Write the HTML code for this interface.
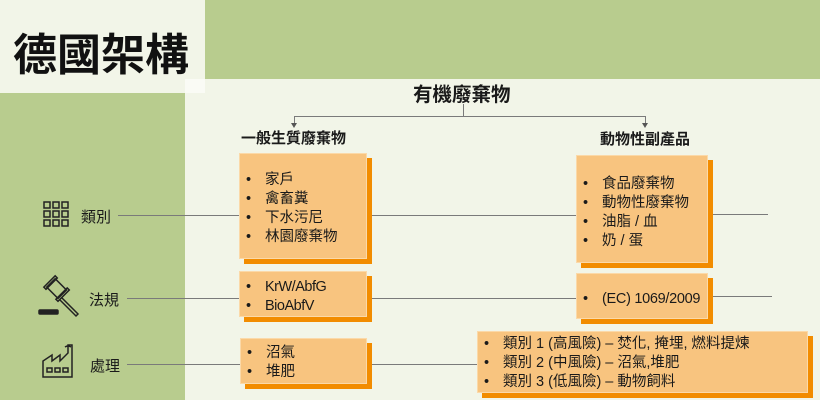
<!DOCTYPE html>
<html><head><meta charset="utf-8"><style>
body{margin:0;width:820px;height:400px;overflow:hidden;background:#f2f5e8;position:relative;font-family:"Liberation Sans","Noto Sans CJK TC",sans-serif;color:#1a1a1a}
.a{position:absolute}
.box{position:absolute;background:#f8c47f;box-shadow:5px 5px 0 #f28c00;border:1px solid #fbd9a8;box-sizing:border-box}
.t{position:absolute;font-size:14.5px;line-height:19px;white-space:nowrap}
.t div{position:relative;padding-left:26px}
.t div:before{content:"•";position:absolute;left:7px}
.ln{position:absolute;height:1px;background:#7a7a7a}
.lab{position:absolute;font-size:15px}
</style></head><body>
<div class="a" style="left:205px;top:0;width:615px;height:79px;background:#b8cc8e"></div>
<div class="a" style="left:0;top:93px;width:185px;height:307px;background:#b8cc8e"></div>
<div class="a" style="left:185px;top:79px;width:20px;height:14px;background:#fafbf5"></div>
<div class="a" style="left:13px;top:19px;font-size:44px;font-weight:bold;color:#111">德國架構</div>

<div class="a" style="left:413px;top:78px;font-size:19.5px;font-weight:bold">有機廢棄物</div>
<div class="ln" style="left:463px;top:104px;width:1px;height:12px"></div>
<div class="ln" style="left:294px;top:116px;width:352px"></div>
<div class="ln" style="left:294px;top:116px;width:1px;height:8px"></div>
<div class="ln" style="left:645px;top:116px;width:1px;height:8px"></div>
<div class="a" style="left:291px;top:123px;border-left:3px solid transparent;border-right:3px solid transparent;border-top:5px solid #555"></div>
<div class="a" style="left:642px;top:123px;border-left:3px solid transparent;border-right:3px solid transparent;border-top:5px solid #555"></div>
<div class="a" style="left:241px;top:127px;font-size:15px;font-weight:bold">一般生質廢棄物</div>
<div class="a" style="left:600px;top:128px;font-size:15px;font-weight:bold">動物性副產品</div>

<div class="ln" style="left:118px;top:215px;width:458px"></div>
<div class="ln" style="left:710px;top:214px;width:58px"></div>
<div class="ln" style="left:127px;top:298px;width:449px"></div>
<div class="ln" style="left:710px;top:296px;width:62px"></div>
<div class="ln" style="left:127px;top:364px;width:350px"></div>

<div class="box" style="left:239px;top:153px;width:128px;height:106px"></div>
<div class="t" style="left:239px;top:171px"><div>家戶</div><div>禽畜糞</div><div>下水污尼</div><div>林園廢棄物</div></div>
<div class="box" style="left:239px;top:271px;width:128px;height:46px"></div>
<div class="t" style="left:239px;top:278px;letter-spacing:-0.5px"><div>KrW/AbfG</div><div>BioAbfV</div></div>
<div class="box" style="left:240px;top:338px;width:127px;height:46px"></div>
<div class="t" style="left:240px;top:344px"><div>沼氣</div><div>堆肥</div></div>
<div class="box" style="left:576px;top:155px;width:132px;height:108px"></div>
<div class="t" style="left:576px;top:175px"><div>食品廢棄物</div><div>動物性廢棄物</div><div>油脂 / 血</div><div>奶 / 蛋</div></div>
<div class="box" style="left:576px;top:273px;width:132px;height:46px"></div>
<div class="t" style="left:576px;top:290px;letter-spacing:-0.3px"><div>(EC) 1069/2009</div></div>
<div class="box" style="left:477px;top:331px;width:331px;height:62px"></div>
<div class="t" style="left:477px;top:335px"><div>類別 1 (高風險) – 焚化, 掩埋, 燃料提煉</div><div>類別 2 (中風險) – 沼氣,堆肥</div><div>類別 3 (低風險) – 動物飼料</div></div>

<svg class="a" style="left:38px;top:200px" width="45" height="182" viewBox="0 0 45 182" fill="none" stroke="#222" stroke-width="1.5">
<g><rect x="6" y="2" width="6" height="6"/><rect x="15" y="2" width="6" height="6"/><rect x="24" y="2" width="6" height="6"/>
<rect x="6" y="11" width="6" height="6"/><rect x="15" y="11" width="6" height="6"/><rect x="24" y="11" width="6" height="6"/>
<rect x="6" y="20" width="6" height="6"/><rect x="15" y="20" width="6" height="6"/><rect x="24" y="20" width="6" height="6"/></g>
<g transform="translate(0,76)">
<g transform="rotate(45 20 14)"><rect x="10" y="8" width="16" height="12"/><rect x="8" y="6" width="3" height="16"/><rect x="25" y="6" width="3" height="16"/></g>
<path d="M24 22 L40 38 L38 40 L22 24"/>
<rect x="1" y="34" width="19" height="4" rx="1" fill="#222"/>
</g>
<g transform="translate(0,143)">
<path d="M5 34 V18 L14 12 V18 L22 12 V18 L30 10 V2 H34 V34 Z"/>
<rect x="9" y="25" width="5" height="4"/><rect x="17" y="25" width="5" height="4"/><rect x="25" y="25" width="5" height="4"/>
<path d="M27 4 q3 -2 6 0"/>
</g>
</svg>
<div class="lab" style="left:81px;top:206px">類別</div>
<div class="lab" style="left:89px;top:289px">法規</div>
<div class="lab" style="left:90px;top:355px">處理</div>
</body></html>
